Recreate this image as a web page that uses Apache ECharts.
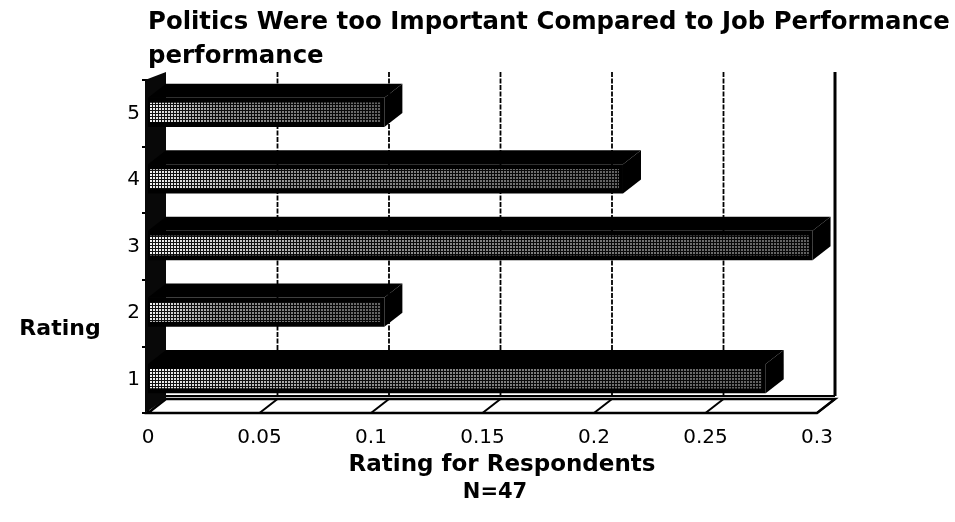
<!DOCTYPE html>
<html>
<head>
<meta charset="utf-8">
<script src="https://cdn.jsdelivr.net/npm/echarts@6/dist/echarts.min.js"></script>
<style>
  html, body { margin: 0; padding: 0; background: #fff; }
  #chart { width: 955px; height: 522px; }
</style>
</head>
<body>
<div id="chart"></div>
<script>
// Share of respondents giving each rating (N = 47)
const ratings = ['1', '2', '3', '4', '5'];
const shares = [0.277, 0.106, 0.298, 0.213, 0.106];
const xTicks = [0, 0.05, 0.1, 0.15, 0.2, 0.25, 0.3];
const xTickLabels = ['0', '0.05', '0.1', '0.15', '0.2', '0.25', '0.3'];

const titleLines = ['Politics Were too Important Compared to Job Performance', 'performance'];
const xTitle = 'Rating for Respondents';
const xSubtitle = 'N=47';
const yTitle = 'Rating';

// 3-D depth of the box (pixels to the right / upward)
const DX = 18, DY = -14;
const FONT = 'DejaVu Sans';

// halftone tile for the bar faces
function halftone() {
  const c = document.createElement('canvas');
  c.width = 3; c.height = 3;
  const g = c.getContext('2d');
  g.fillStyle = '#141414';
  g.fillRect(0, 0, 3, 3);
  g.fillStyle = '#f4f4f4';
  [[0,0],[1,0],[0,1],[1,1]].forEach(p => g.fillRect(p[0], p[1], 1, 1));
  return c;
}
const tile = halftone();

const chart = echarts.init(document.getElementById('chart'), null, { renderer: 'canvas' });

// floor slab and left wall
function renderFrame(params, api) {
  const cs = params.coordSys;
  const x0 = api.coord([api.value(0), 0])[0];
  const x1 = api.coord([api.value(1), 0])[0];
  const top = cs.y, bottom = cs.y + cs.height;
  return {
    type: 'group',
    children: [
      { type: 'polygon', shape: { points: [[x0, bottom], [x0 + DX, bottom + DY], [x1 + DX, bottom + DY], [x1, bottom]] },
        style: { fill: '#fff', stroke: '#000', lineWidth: 2.5 } },
      { type: 'line', shape: { x1: x0 + DX, y1: bottom + DY - 3, x2: x1 + DX, y2: bottom + DY - 3 },
        style: { stroke: '#000', lineWidth: 2 } },
      { type: 'polygon', shape: { points: [[x0 - 3, top], [x0 + DX, top + DY + 6], [x0 + DX, bottom + DY], [x0 - 3, bottom]] },
        style: { fill: '#080808' } }
    ]
  };
}

// back-wall gridlines and floor diagonals at each tick
function renderGrid(params, api) {
  const cs = params.coordSys;
  const v = api.value(0);
  const fx = api.coord([v, 0])[0];
  const top = cs.y, bottom = cs.y + cs.height;
  const children = [];
  const last = params.dataIndex === params.dataInsideLength - 1;
  if (v > 0) {
    children.push({ type: 'line', shape: { x1: fx, y1: bottom, x2: fx + DX, y2: bottom + DY },
      style: { stroke: '#000', lineWidth: 2 } });
    children.push({ type: 'line', shape: { x1: fx + DX, y1: top + DY + 6, x2: fx + DX, y2: bottom + DY - 3 },
      style: { stroke: '#000', lineWidth: last ? 3 : 1.8, lineDash: last ? null : [5, 1.5] } });
  }
  return { type: 'group', children };
}

// 3-D horizontal bar: front face, top face and end cap
function renderBar(params, api) {
  const val = api.value(0);
  const cat = api.value(1);
  const p0 = api.coord([0, cat]);
  const p1 = api.coord([val, cat]);
  const band = api.size([0, 1])[1];
  const h = band * 0.44;
  const yT = p0[1] - h / 2 - 1, yB = p0[1] + h / 2 - 1;
  const x0 = p0[0], x1 = p1[0];
  const inner = { x: x0 + 2, y: yT + 5, width: x1 - x0 - 6, height: yB - yT - 10 };
  return {
    type: 'group',
    children: [
      { type: 'polygon', shape: { points: [[x0, yT], [x0 + DX, yT + DY], [x1 + DX, yT + DY], [x1, yT]] },
        style: { fill: '#000' } },
      { type: 'polygon', shape: { points: [[x1, yT], [x1 + DX, yT + DY], [x1 + DX, yB + DY], [x1, yB]] },
        style: { fill: '#000' } },
      { type: 'rect', shape: { x: x0, y: yT, width: x1 - x0, height: yB - yT },
        style: { fill: '#000' } },
      { type: 'rect', shape: inner,
        style: { fill: { image: tile, repeat: 'repeat' } } },
      { type: 'rect', shape: inner,
        style: { fill: new echarts.graphic.LinearGradient(0, 0, 1, 0, [
          { offset: 0, color: 'rgba(0,0,0,0)' },
          { offset: 0.3, color: 'rgba(0,0,0,0.4)' },
          { offset: 1, color: 'rgba(0,0,0,0.6)' }
        ]) } }
    ]
  };
}

const option = {
  backgroundColor: '#fff',
  animation: false,
  title: {
    text: titleLines.join('\n'),
    left: 143,
    top: 1,
    textStyle: { fontFamily: FONT, fontWeight: 'bold', fontSize: 24.4, lineHeight: 34, color: '#000' }
  },
  grid: { left: 148, right: 138, top: 80, bottom: 109 },
  xAxis: {
    type: 'value', min: 0, max: 0.3, interval: 0.05,
    axisLine: { show: false }, axisTick: { show: false }, splitLine: { show: false },
    axisLabel: {
      color: '#000', fontFamily: FONT, fontSize: 20, margin: 15,
      formatter: v => { const i = xTicks.findIndex(t => Math.abs(t - v) < 1e-9); return i >= 0 ? xTickLabels[i] : ''; }
    }
  },
  yAxis: {
    type: 'category', data: ratings,
    axisLine: { show: true, lineStyle: { color: '#000', width: 2 } },
    axisTick: { show: true, length: 6, lineStyle: { color: '#000', width: 2 } },
    axisLabel: { color: '#000', fontFamily: FONT, fontSize: 20, margin: 8 }
  },
  graphic: [
    { type: 'text', x: 502, y: 465, style: { text: xTitle, fontFamily: FONT, fontWeight: 'bold', fontSize: 23, fill: '#000', align: 'center', verticalAlign: 'middle' } },
    { type: 'text', x: 495, y: 493, style: { text: xSubtitle, fontFamily: FONT, fontWeight: 'bold', fontSize: 21, fill: '#000', align: 'center', verticalAlign: 'middle' } },
    { type: 'text', x: 60, y: 329, style: { text: yTitle, fontFamily: FONT, fontWeight: 'bold', fontSize: 22, fill: '#000', align: 'center', verticalAlign: 'middle' } }
  ],
  series: [
    { type: 'custom', renderItem: renderFrame, data: [[xTicks[0], xTicks[xTicks.length - 1]]], z: 1, silent: true },
    { type: 'custom', renderItem: renderGrid, data: xTicks.map(t => [t]), z: 2, silent: true },
    { type: 'custom', renderItem: renderBar, data: shares.map((s, i) => [s, i]), z: 3, silent: true }
  ]
};
chart.setOption(option);
</script>
</body>
</html>
